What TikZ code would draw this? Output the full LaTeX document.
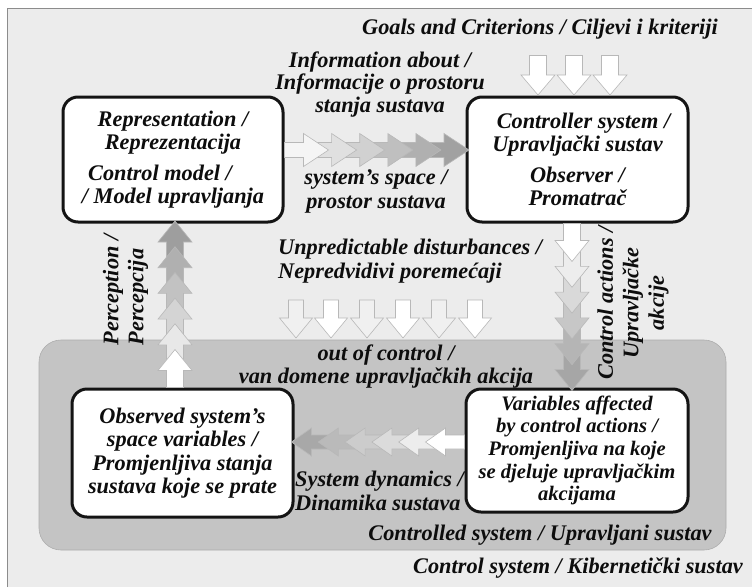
\documentclass[tikz,border=0pt]{standalone}
\usepackage{fontspec}
\setmainfont{Liberation Serif}
\usetikzlibrary{calc}
\newcommand\blkarrow[4]{% fill, tail, tip, (uses \As \Ah \AL)
  \path ($(#3)!\AL!(#2)$) coordinate (ab);
  \draw[blk, fill=#1] ($(#2)!\As!90:(#3)$) -- ($(ab)!\As!-90:(#2)$) -- ($(ab)!\Ah!-90:(#2)$) -- (#3)
     -- ($(ab)!\Ah!90:(#2)$) -- ($(ab)!\As!90:(#2)$) -- ($(#2)!\As!-90:(#3)$) -- cycle;
}
\newcommand\blkchain[6]{% tail, tip, n, step, length, colours (tip-most first)
  \foreach \col [count=\k] in {#6} {
    \pgfmathsetmacro\da{(#3-\k)*#4}
    \pgfmathsetmacro\db{\da+#5}
    \path ($(#1)!\da pt!(#2)$) coordinate (ct) ($(#1)!\db pt!(#2)$) coordinate (cp);
    \blkarrow{\col}{ct}{cp}{}
  }
}
\begin{document}
\begin{tikzpicture}[x=1pt,y=-1pt,
  txt/.style={font=\fontsize{22.3}{23.5}\selectfont\bfseries\itshape, text=black!95, inner sep=0pt},
  box/.style={txt, draw=black!92, line width=3pt, rounded corners=15pt, fill=white, align=center},
  lbl/.style={txt, align=center},
  blk/.style={draw=black!28, line width=0.6pt},
  sysbox/.style={draw=black!32, line width=0.6pt, fill=black!23, rounded corners=22pt}]
\useasboundingbox (0,0) rectangle (752,587);
\fill[black!7.5] (7,8) rectangle (752,587);
\draw[black!45, line width=1pt] (7,587) -- (7,8) -- (752,8);

% controlled system region
\node[sysbox, minimum width=687pt, minimum height=210pt] (cs) at (382.5,445) {};

% boxes
\node[box, minimum width=220pt, minimum height=125pt] (rep) at (173,159.5)
  {Representation /\\Reprezentacija\\[7pt]\hspace*{-26pt}Control model /\\/ Model upravljanja};
\node[box, minimum width=221pt, minimum height=125pt] (ctrl) at (577.5,159.5)
  {\hspace*{12pt}Controller system /\\Upravljački sustav\\[7pt]Observer /\\Promatrač};
\node[box, minimum width=221pt, minimum height=128pt] (obs) at (182.5,453)
  {Observed system's\\space variables /\\Promjenljiva stanja\\sustava koje se prate};
\node[box, minimum width=222pt, minimum height=123pt, font=\fontsize{20.6}{22.7}\selectfont\bfseries\itshape] (var) at (577,450.5)
  {Variables affected\\by control actions /\\Promjenljiva na koje\\se djeluje upravljačkim\\akcijama};

% labels
\node[lbl] (goals) at (540,29) {Goals and Criterions / Ciljevi i kriteriji};
\node[lbl, font=\fontsize{22.3}{22.5}\selectfont\bfseries\itshape] (info) at (380,84.5) {Information about /\\Informacije o prostoru\\stanja sustava};
\node[lbl] (space) at (376,191.5) {system's space /\\prostor sustava};
\node[lbl, align=left, anchor=west] (unpred) at (278,261) {Unpredictable disturbances /\\Nepredvidivi poremećaji};
\node[lbl] (ooc) at (386,366.5) {out of control /\\van domene upravljačkih akcija};
\node[lbl, align=left, anchor=west] (dyn) at (295,491) {System dynamics /\\Dinamika sustava};
\node[lbl] (csl) at (540,535) {Controlled system / Upravljani sustav};
\node[lbl] (kib) at (578,568) {Control system / Kibernetički sustav};
\node[lbl, rotate=90, align=left, font=\fontsize{22.3}{25}\selectfont\bfseries\itshape] (perc) at (125.5,290) {Perception /\\Percepcija};
\node[lbl, rotate=90, font=\fontsize{22.3}{25.5}\selectfont\bfseries\itshape] (cact) at (633,303) {Control actions /\\Upravljačke\\akcije};

% information chain (rep -> ctrl)
\def\As{7.5pt}\def\Ah{16.5pt}\def\AL{25pt}
\coordinate (iT) at ($(rep.east)+(0,-9.5)$);
\coordinate (iP) at ($(ctrl.west)+(0,-9.5)$);
\blkchain{iT}{iP}{6}{28.1}{44}{black!37,black!31,black!25,black!18,black!12,black!4}

% perception chain (obs -> rep)
\def\As{8.5pt}\def\Ah{17pt}\def\AL{21pt}
\coordinate (pT) at ($(obs.north)+(-7.5,0)$);
\coordinate (pP) at ($(rep.south)+(2,0)$);
\blkchain{pT}{pP}{6}{25.7}{38}{black!38,black!31,black!24,black!17,black!9,white}

% control actions chain (ctrl -> var)
\coordinate (aT) at ($(ctrl.south)+(-5.5,0)$);
\coordinate (aP) at ($(var.north)+(-5,0)$);
\blkchain{aT}{aP}{6}{25.8}{38}{black!35,black!29,black!22,black!15,black!7,white}

% system dynamics chain (var -> obs)
\def\As{7pt}\def\Ah{14pt}\def\AL{20pt}
\coordinate (dT) at ($(var.west)+(0,-8.5)$);
\coordinate (dP) at ($(obs.east)+(0,-11)$);
\blkchain{dT}{dP}{6}{26.8}{39}{black!34,black!27,black!20,black!14,black!7,white}

% goals arrows
\def\As{8.5pt}\def\Ah{17pt}\def\AL{20pt}
\foreach \dx [count=\g] in {-39.5,-3.5,32.5} {
  \coordinate (gP\g) at ($(ctrl.north)+(\dx,-0.5)$);
  \coordinate (gT\g) at ($(gP\g)+(0,-39.5)$);
  \blkarrow{white}{gT\g}{gP\g}{}
}

% disturbance arrows
\def\As{7.5pt}\def\Ah{16.5pt}\def\AL{20pt}
\foreach \xx/\cc [count=\u] in {296/black!6,331/white,367/black!6,403/white,439/black!6,475/white} {
  \coordinate (uP\u) at (\xx,338);
  \coordinate (uT\u) at ($(uP\u)+(0,-38)$);
  \blkarrow{\cc}{uT\u}{uP\u}{}
}
\end{tikzpicture}
\end{document}
